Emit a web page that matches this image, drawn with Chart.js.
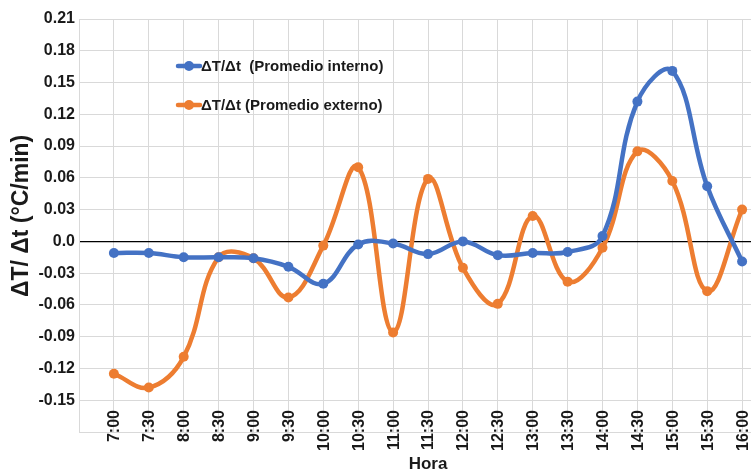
<!DOCTYPE html>
<html>
<head>
<meta charset="utf-8">
<script src="https://cdn.jsdelivr.net/npm/chart.js@4"></script>
<style>
  html, body { margin: 0; padding: 0; background: #fff; overflow: hidden; }
  #wrap { width: 751px; height: 475px; overflow: hidden; }
</style>
</head>
<body>
<div id="wrap"><canvas id="chart" width="782" height="475"></canvas></div>
<script>
// Hours on the x axis
const hours = ['7:00', '7:30', '8:00', '8:30', '9:00', '9:30', '10:00', '10:30', '11:00', '11:30',
  '12:00', '12:30', '13:00', '13:30', '14:00', '14:30', '15:00', '15:30', '16:00'];

// dT/dt values (°C/min)
const interno = [-0.011, -0.011, -0.015, -0.015, -0.016, -0.024, -0.040, -0.003, -0.002, -0.012,
  0.000, -0.013, -0.011, -0.010, 0.005, 0.132, 0.161, 0.052, -0.019];
const externo = [-0.125, -0.138, -0.109, -0.015, -0.016, -0.053, -0.004, 0.070, -0.086, 0.059,
  -0.025, -0.059, 0.024, -0.038, -0.006, 0.085, 0.057, -0.047, 0.030];

const seriesLabels = ['ΔT/Δt  (Promedio interno)', 'ΔT/Δt (Promedio externo)'];
const yTicks = [-0.18, -0.15, -0.12, -0.09, -0.06, -0.03, 0.0, 0.03, 0.06, 0.09, 0.12, 0.15, 0.18, 0.21];

const BLUE = '#4472C4';
const ORANGE = '#ED7D31';
const TEXT = '#1a1a1a';
const FONT = '"Liberation Sans", Arial, sans-serif';

const toPoints = (vals) => vals.map((v, i) => ({ x: i, y: v }));

// legend drawn inside the plot area, like the Excel original
const insideLegend = {
  id: 'insideLegend',
  afterDatasetsDraw(chart) {
    const ctx = chart.ctx;
    const rows = [66, 105];
    ctx.save();
    chart.data.datasets.forEach((ds, i) => {
      const y = rows[i];
      ctx.strokeStyle = ds.borderColor;
      ctx.lineWidth = 4.5;
      ctx.lineCap = 'round';
      ctx.beginPath();
      ctx.moveTo(178, y);
      ctx.lineTo(200, y);
      ctx.stroke();
      ctx.fillStyle = ds.borderColor;
      ctx.beginPath();
      ctx.arc(189, y, 5, 0, Math.PI * 2);
      ctx.fill();
      ctx.fillStyle = TEXT;
      ctx.font = 'bold 15px ' + FONT;
      ctx.textBaseline = 'middle';
      ctx.textAlign = 'left';
      ctx.fillText(ds.label, 201, y + 1);
    });
    ctx.restore();
  }
};

// Excel puts the hour labels over the bottom band of the plot; Chart.js clips
// tick labels to the scale box, so draw them here from the x scale
const hourLabels = {
  id: 'hourLabels',
  afterDraw(chart) {
    const ctx = chart.ctx;
    const xs = chart.scales.x;
    ctx.save();
    ctx.fillStyle = TEXT;
    ctx.font = 'bold 16px ' + FONT;
    ctx.textAlign = 'right';
    ctx.textBaseline = 'middle';
    hours.forEach((h, i) => {
      ctx.save();
      ctx.translate(xs.getPixelForValue(i) + 1, 410);
      ctx.rotate(-Math.PI / 2);
      ctx.fillText(h, 0, 0);
      ctx.restore();
    });
    ctx.restore();
  }
};

new Chart(document.getElementById('chart'), {
  type: 'line',
  data: {
    datasets: [
      {
        label: seriesLabels[0],
        data: toPoints(interno),
        borderColor: BLUE,
        backgroundColor: BLUE,
        borderWidth: 4.5,
        pointRadius: 5,
        pointBorderWidth: 0,
        tension: 0.4
      },
      {
        label: seriesLabels[1],
        data: toPoints(externo),
        borderColor: ORANGE,
        backgroundColor: ORANGE,
        borderWidth: 4.5,
        pointRadius: 5,
        pointBorderWidth: 0,
        tension: 0.4
      }
    ]
  },
  options: {
    responsive: false,
    animation: false,
    layout: { padding: { top: 19, right: 0, bottom: 0, left: 0 } },
    plugins: { legend: { display: false }, tooltip: { enabled: false } },
    scales: {
      x: {
        type: 'linear',
        min: -1,
        max: 19,
        afterFit: (s) => { s.height = 43; },
        afterBuildTicks: (s) => { s.ticks = hours.map((h, i) => ({ value: i })).concat([{ value: -1 }, { value: 19 }]); },
        grid: { color: '#d9d9d9', drawTicks: false },
        border: { color: '#d9d9d9' },
        ticks: { display: false },
        title: {
          display: true,
          text: 'Hora',
          color: TEXT,
          font: { family: FONT, size: 17, weight: 'bold' },
          padding: { top: 0, bottom: 0 }
        }
      },
      y: {
        min: -0.18,
        max: 0.21,
        afterFit: (s) => { s.width = 79; },
        afterBuildTicks: (s) => { s.ticks = yTicks.map((v) => ({ value: v })); },
        grid: {
          drawTicks: false,
          color: (c) => (Math.abs(c.tick.value) < 1e-9 ? '#000' : '#d9d9d9'),
          lineWidth: (c) => (Math.abs(c.tick.value) < 1e-9 ? 1.3 : 1)
        },
        border: { color: '#d9d9d9' },
        ticks: {
          padding: 4,
          color: TEXT,
          font: { family: FONT, size: 16, weight: 'bold' },
          callback: (v) => (v < -0.175 ? '' : Math.abs(v) < 1e-9 ? '0.0' : v.toFixed(2))
        },
        title: {
          display: true,
          text: '   ΔT/ Δt (°C/min)',
          color: TEXT,
          font: { family: FONT, size: 23, weight: 'bold' },
          padding: { top: 8, bottom: 0 }
        }
      }
    }
  },
  plugins: [insideLegend, hourLabels]
});
</script>
</body>
</html>
